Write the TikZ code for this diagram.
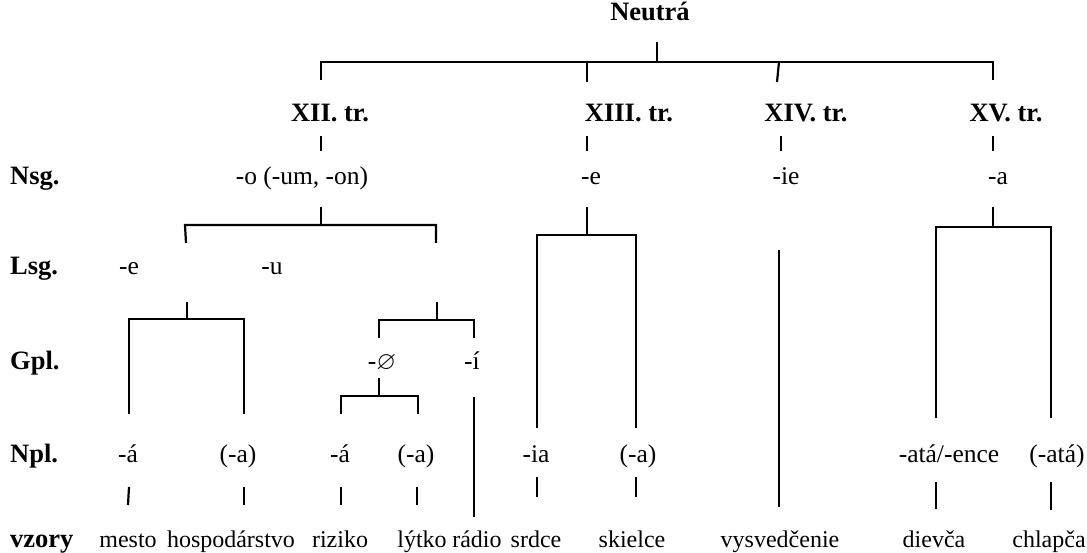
\documentclass[tikz,border=0pt]{standalone}
\usepackage{amssymb}
\usepackage{fontspec}
\setmainfont{Liberation Serif}
\usetikzlibrary{positioning}

\begin{document}
\begin{tikzpicture}[
    x=1pt, y=-1pt,
    every node/.style = {inner sep=0pt, anchor=base, font=\fontsize{25.5}{30}\selectfont},
    head/.style = {font=\fontsize{26.5}{30}\selectfont\bfseries},
    row/.style = {head, anchor=base west},
    vz/.style = {font=\fontsize{24}{28}\selectfont},
    line/.style = {line width=2.2pt}
  ]
  \useasboundingbox (0,0) rectangle (1087,553);

  % headings
  \node[head] (neutra) at (650,21) {Neutrá};
  \node[head] (xii) at (330,122) {XII. tr.};
  \node[head] (xiii) at (629,122) {XIII. tr.};
  \node[head] (xiv) at (806,122) {XIV. tr.};
  \node[head] (xv) at (1006,122) {XV. tr.};

  \node[row] (nsg) at (10,185) {Nsg.};
  \node[row] (lsg) at (10,275) {Lsg.};
  \node[row] (gpl) at (10,370) {Gpl.};
  \node[row] (npl) at (10,462) {Npl.};
  \node[row] (vzory) at (10,547) {vzory};

  % endings
  \node (o) at (302,185) {-o (-um,~-on)};
  \node (e) at (591,185) {-e};
  \node (ie) at (786,185) {-ie};
  \node (a) at (998,185) {-a};
  \node (le) at (129,275) {-e};
  \node (lu) at (272,275) {-u};
  \node (nul) at (382,370) {-$\varnothing$};
  \node (gi) at (472,370) {-í};
  \node (na1) at (128,462) {-á};
  \node (na2) at (238,462) {(-a)};
  \node (na3) at (340,462) {-á};
  \node (na4) at (416,462) {(-a)};
  \node (nia) at (536,462) {-ia};
  \node (na5) at (638,462) {(-a)};
  \node (nata) at (949,462) {-atá/-ence};
  \node (nata2) at (1057,462) {(-atá)};

  % vzory
  \node[vz] (mesto) at (128,547) {mesto};
  \node[vz] (hosp) at (231,547) {hospodárstvo};
  \node[vz] (riziko) at (340,547) {riziko};
  \node[vz] (lytko) at (422,547) {lýtko};
  \node[vz] (radio) at (477,547) {rádio};
  \node[vz] (srdce) at (536,547) {srdce};
  \node[vz] (skielce) at (632,547) {skielce};
  \node[vz] (vysv) at (780,547) {vysvedčenie};
  \node[vz] (dievca) at (934,547) {dievča};
  \node[vz] (chlapca) at (1049,547) {chlapča};

  % brackets
  \coordinate (t0) at (657,42);
  \coordinate (b0l) at (321,62);
  \coordinate (b0r) at (993,62);
  \coordinate (d13) at (587,62);
  \coordinate (d14) at (779,62);
  \draw[line] (t0) -- ++(0,20);
  \draw[line] (b0l) ++(0,18) |- (b0r) -- ++(0,18);
  \draw[line] (d13) -- ++(0,20);
  \draw[line] (d14) -- ++(-2,20);

  \coordinate (k12) at (321,136);
  \coordinate (k13) at (587,136);
  \coordinate (k14) at (781,136);
  \coordinate (k15) at (993,136);
  \draw[line] (k12) -- ++(0,15);
  \draw[line] (k13) -- ++(0,15);
  \draw[line] (k14) -- ++(0,15);
  \draw[line] (k15) -- ++(0,15);

  % XII
  \coordinate (s12) at (321,207);
  \coordinate (b1l) at (185,225);
  \coordinate (b1r) at (436,225);
  \draw[line] (s12) -- ++(0,18);
  \draw[line] (b1l) ++(1,18) -- (b1l) -- (b1r) -- ++(0,18);

  \coordinate (s1l) at (187,302);
  \coordinate (b2l) at (129,319);
  \coordinate (b2r) at (244,319);
  \draw[line] (s1l) -- ++(0,17);
  \draw[line] (b2l) ++(0,95) |- (b2r) -- ++(0,95);

  \coordinate (s1r) at (437,302);
  \coordinate (b3l) at (379,320);
  \coordinate (b3r) at (474,320);
  \draw[line] (s1r) -- ++(0,18);
  \draw[line] (b3l) ++(0,18) |- (b3r) -- ++(0,18);

  \coordinate (s3) at (379,378);
  \coordinate (b4l) at (341,396);
  \coordinate (b4r) at (418,396);
  \draw[line] (s3) -- ++(0,18);
  \draw[line] (b4l) ++(0,18) |- (b4r) -- ++(0,18);
  \coordinate (r0) at (474,397);
  \draw[line] (r0) -- ++(0,120);

  % XIII
  \coordinate (s13) at (587,207);
  \coordinate (b5l) at (537,235);
  \coordinate (b5r) at (636,235);
  \draw[line] (s13) -- ++(0,28);
  \draw[line] (b5l) ++(0,193) |- (b5r) -- ++(0,193);

  % XIV
  \coordinate (s14) at (779,250);
  \draw[line] (s14) -- ++(0,257);

  % XV
  \coordinate (s15) at (993,207);
  \coordinate (b6l) at (936,227);
  \coordinate (b6r) at (1051,227);
  \draw[line] (s15) -- ++(0,20);
  \draw[line] (b6l) ++(0,191) |- (b6r) -- ++(0,191);

  % Npl ticks
  \coordinate (m1) at (129,487);
  \coordinate (m2) at (244,487);
  \coordinate (m3) at (341,487);
  \coordinate (m4) at (417,487);
  \coordinate (m5) at (537,477);
  \coordinate (m6) at (636,477);
  \coordinate (m7) at (936,482);
  \coordinate (m8) at (1051,482);
  \draw[line] (m1) -- ++(-1,18);
  \draw[line] (m2) -- ++(0,18);
  \draw[line] (m3) -- ++(0,18);
  \draw[line] (m4) -- ++(0,18);
  \draw[line] (m5) -- ++(0,20);
  \draw[line] (m6) -- ++(0,20);
  \draw[line] (m7) -- ++(0,27);
  \draw[line] (m8) -- ++(0,28);
\end{tikzpicture}
\end{document}
